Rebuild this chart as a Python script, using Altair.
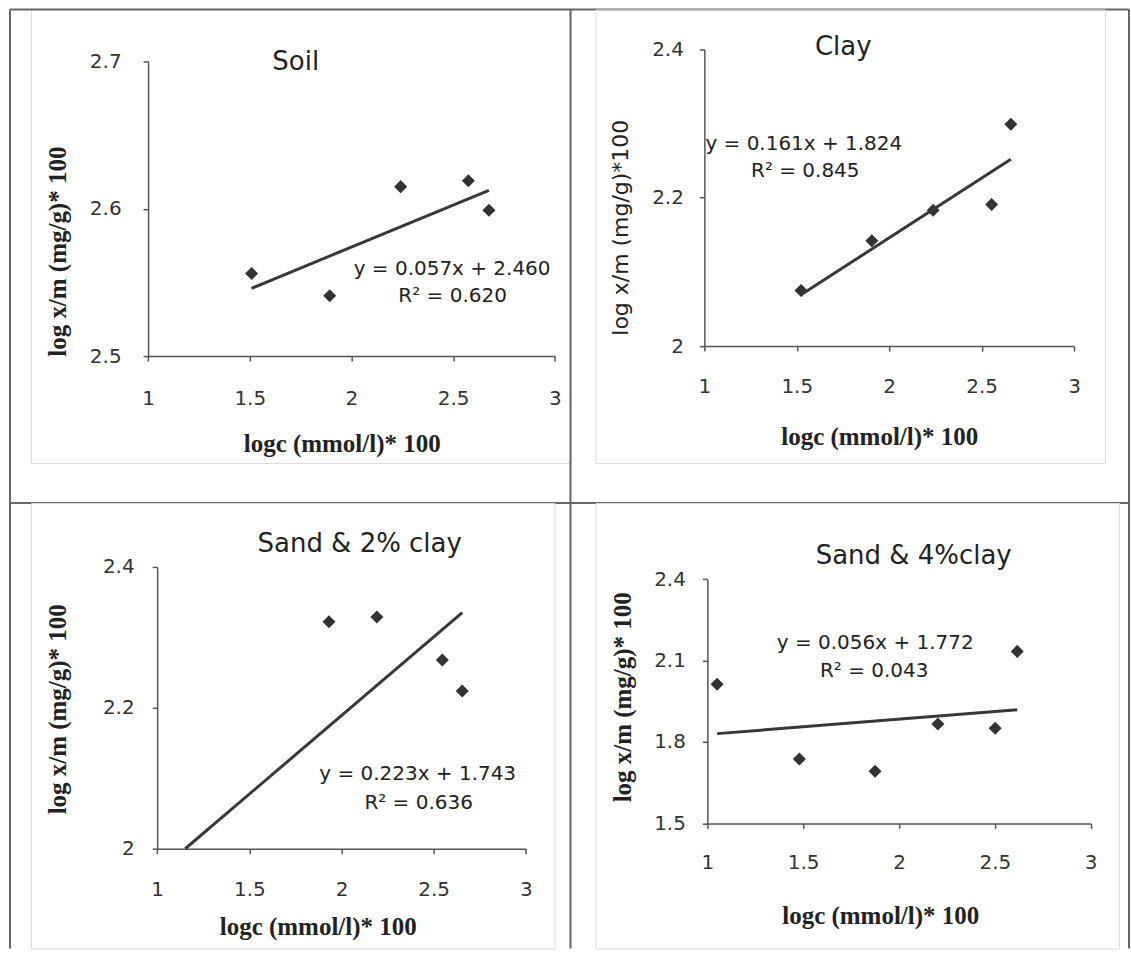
import altair as alt
import pandas as pd

# ---------------- data ----------------
soil_x = [1.509, 1.893, 2.242, 2.575, 2.676]
soil_y = [2.556, 2.541, 2.615, 2.619, 2.599]

clay_x = [1.523, 1.906, 2.238, 2.554, 2.658]
clay_y = [2.075, 2.142, 2.183, 2.191, 2.299]

sand2_x = [1.932, 2.192, 2.547, 2.655]
sand2_y = [2.322, 2.329, 2.268, 2.224]

sand4_x = [1.051, 1.480, 1.875, 2.203, 2.502, 2.617]
sand4_y = [2.013, 1.737, 1.692, 1.866, 1.851, 2.134]

panel_titles = ["Soil", "Clay", "Sand & 2% clay", "Sand & 4%clay"]
slopes = [0.057, 0.161, 0.223, 0.056]
intercepts = [2.460, 1.824, 1.743, 1.772]
r_squared = ["0.620", "0.845", "0.636", "0.043"]
trend_x_start = [1.509, 1.523, 1.152, 1.051]
trend_x_end = [2.676, 2.658, 2.655, 2.617]
y_domains = [[2.5, 2.7], [2.0, 2.4], [2.0, 2.4], [1.5, 2.4]]
y_ticks = [[2.5, 2.6, 2.7], [2.0, 2.2, 2.4], [2.0, 2.2, 2.4], [1.5, 1.8, 2.1, 2.4]]
x_ticks = [1, 1.5, 2, 2.5, 3]
x_title = "logc (mmol/l)* 100"
y_titles = ["log x/m (mg/g)* 100", "log x/m (mg/g)*100",
            "log x/m (mg/g)* 100", "log x/m (mg/g)* 100"]
xs_all = [soil_x, clay_x, sand2_x, sand4_x]
ys_all = [soil_y, clay_y, sand2_y, sand4_y]

# ---------------- styling / layout ----------------
SANS = "DejaVu Sans"
SERIF = "Liberation Serif"
INK = "#222222"
AXIS = "#555555"
FRAME = "#666666"

layouts = [
    dict(w=540, h=454, xr=[117.2, 524.3], yr=[347, 52], xoff=-107, yoff=-117.2,
         ylp=22, xlp=27, title=(265, 53), eq1=(421.5, 260), eq2=(422, 287),
         xt=(311, 87), yt=(-91, 242), yserif=True),
    dict(w=510, h=454, xr=[109, 479], yr=[337, 40], xoff=-117, yoff=-109,
         ylp=16, xlp=25, title=(248, 38), eq1=(208.5, 135), eq2=(210, 162),
         xt=(284, 90), yt=(-84, 218), yserif=False),
    dict(w=524, h=446, xr=[126.3, 495.3], yr=[346, 64], xoff=-100, yoff=-126.3,
         ylp=18, xlp=26, title=(329, 41), eq1=(387, 271), eq2=(388, 300),
         xt=(287, 78), yt=(-100, 206), yserif=True),
    dict(w=524, h=446, xr=[112, 495.6], yr=[320.7, 76.3], xoff=-125.3, yoff=-112,
         ylp=17, xlp=24, title=(318.5, 53), eq1=(280, 140), eq2=(279, 168),
         xt=(285, 92), yt=(-85, 194), yserif=True),
]


def text_layer(txt, pos, size, font=SANS, weight="normal", color=INK):
    return alt.Chart(pd.DataFrame({"t": [txt]})).mark_text(
        font=font, fontSize=size, fontWeight=weight, color=color,
        align="center", baseline="middle"
    ).encode(text="t:N", x=alt.value(pos[0]), y=alt.value(pos[1]))


def rule_layer(x, x2, y, y2):
    return alt.Chart(pd.DataFrame({"k": [0]})).mark_rule(
        color=FRAME, strokeWidth=2
    ).encode(x=alt.value(x), x2=alt.value(x2), y=alt.value(y), y2=alt.value(y2))


def panel(i):
    L = layouts[i]
    xscale = alt.Scale(domain=[1, 3], range=L["xr"], nice=False, zero=False)
    yscale = alt.Scale(domain=y_domains[i], range=L["yr"], nice=False, zero=False)
    xaxis = alt.Axis(
        values=x_ticks, format="~g", offset=L["xoff"], grid=False,
        domainColor=AXIS, domainWidth=1.5, tickColor=AXIS, tickSize=5, tickWidth=1.5,
        labelFont=SANS, labelFontSize=20, labelColor="#333333", labelPadding=L["xlp"],
        labelFlush=False, labelOverlap=False,
        title=x_title, titleFont=SERIF, titleFontSize=25, titleFontWeight="bold",
        titleColor=INK, titleX=L["xt"][0], titleY=L["xt"][1], titleAngle=0,
        titleAlign="center", titleBaseline="middle",
    )
    if L["yserif"]:
        yt_font, yt_size, yt_weight = SERIF, 25, "bold"
    else:
        yt_font, yt_size, yt_weight = SANS, 22, "normal"
    yaxis = alt.Axis(
        values=y_ticks[i], format="~g", offset=L["yoff"], grid=False,
        domainColor=AXIS, domainWidth=1.5, tickColor=AXIS, tickSize=5, tickWidth=1.5,
        labelFont=SANS, labelFontSize=20, labelColor="#333333", labelPadding=L["ylp"],
        labelFlush=False, labelOverlap=False,
        title=y_titles[i], titleFont=yt_font, titleFontSize=yt_size,
        titleFontWeight=yt_weight, titleColor=INK,
        titleX=L["yt"][0], titleY=L["yt"][1], titleAngle=270,
        titleAlign="center", titleBaseline="middle",
    )
    pts = pd.DataFrame({"x": xs_all[i], "y": ys_all[i]})
    tx = [trend_x_start[i], trend_x_end[i]]
    trend = pd.DataFrame({"x": tx, "y": [slopes[i] * v + intercepts[i] for v in tx]})

    points = alt.Chart(pts).mark_point(
        shape="diamond", filled=True, size=170, color="#333333", opacity=1
    ).encode(
        x=alt.X("x:Q", scale=xscale, axis=xaxis),
        y=alt.Y("y:Q", scale=yscale, axis=yaxis),
    )
    line = alt.Chart(trend).mark_line(color="#383838", strokeWidth=3).encode(
        x=alt.X("x:Q", scale=xscale, axis=xaxis),
        y=alt.Y("y:Q", scale=yscale, axis=yaxis),
    )
    eq1 = "y = %.3fx + %.3f" % (slopes[i], intercepts[i])
    eq2 = "R² = " + r_squared[i]
    layers = [
        points, line,
        text_layer(panel_titles[i], L["title"], 26),
        text_layer(eq1, L["eq1"], 20),
        text_layer(eq2, L["eq2"], 20),
    ]
    if i == 0:
        # the table grid that holds the four charts
        layers += [
            rule_layer(-21, -21, 0, 940),
            rule_layer(540, 540, 0, 940),
            rule_layer(1099, 1099, 0, 940),
            rule_layer(-21, 1099, 0, 0),
            rule_layer(-21, 1099, 494, 494),
        ]
    return alt.layer(*layers).properties(width=L["w"], height=L["h"])


chart = alt.concat(
    panel(0), panel(1), panel(2), panel(3),
    columns=2, align="none", bounds="flush",
    spacing={"row": 40, "column": 25},
    padding={"left": 8, "top": 7, "right": 0, "bottom": 0},
).configure_view(stroke=FRAME, strokeWidth=2).configure(background="white")

chart.save("out.html", embed_options={"renderer": "svg", "actions": False})
